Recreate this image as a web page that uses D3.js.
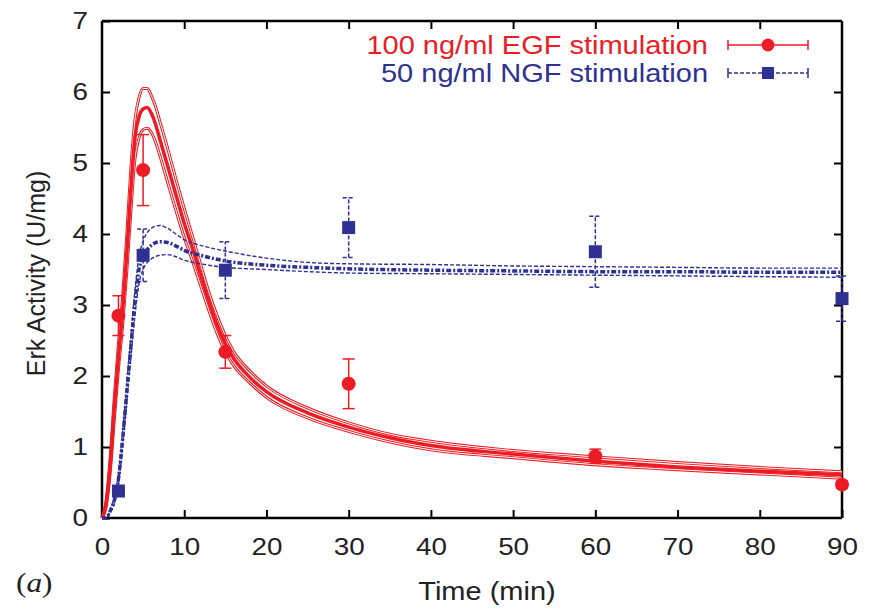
<!DOCTYPE html>
<html>
<head>
<meta charset="utf-8">
<script src="https://cdn.jsdelivr.net/npm/d3@7"></script>
<style>
  body { margin: 0; background: #fff; }
  text { font-family: "Liberation Sans", Arial, sans-serif; }
</style>
</head>
<body>
<div id="chart"></div>
<script>
// model curves
const egfTime  = [0, 0.5, 1, 1.5, 2, 2.5, 3, 3.5, 4, 4.5, 5, 5.5, 6, 6.5, 7, 8, 9, 10, 11, 12, 13, 14, 15, 16, 18, 20, 25, 30, 35, 40, 50, 60, 70, 80, 90];
const egfMid   = [0, 0.2, 0.75, 1.55, 2.27, 2.9, 3.7, 4.6, 5.35, 5.65, 5.76, 5.78, 5.7, 5.55, 5.35, 4.95, 4.55, 4.15, 3.8, 3.42, 3.05, 2.72, 2.45, 2.25, 1.98, 1.78, 1.48, 1.28, 1.13, 1.02, 0.9, 0.8, 0.72, 0.66, 0.61];
const egfUpper = [0, 0.24, 0.85, 1.7, 2.45, 3.1, 3.95, 4.9, 5.6, 5.92, 6.05, 6.05, 5.95, 5.8, 5.6, 5.2, 4.77, 4.36, 3.97, 3.57, 3.18, 2.85, 2.57, 2.35, 2.07, 1.86, 1.55, 1.34, 1.18, 1.08, 0.95, 0.86, 0.78, 0.71, 0.65];
const egfLower = [0, 0.16, 0.65, 1.4, 2.1, 2.7, 3.45, 4.3, 5.05, 5.35, 5.47, 5.49, 5.43, 5.3, 5.12, 4.72, 4.33, 3.95, 3.62, 3.27, 2.92, 2.6, 2.34, 2.15, 1.9, 1.7, 1.41, 1.22, 1.07, 0.96, 0.85, 0.75, 0.68, 0.62, 0.56];

const ngfTime  = [0, 0.5, 1, 1.5, 2, 2.5, 3, 3.5, 4, 4.5, 5, 5.5, 6, 7, 8, 9, 10, 12, 15, 20, 25, 30, 40, 50, 60, 70, 80, 90];
const ngfMid   = [0, 0, 0.1, 0.25, 0.55, 1.1, 1.75, 2.4, 3.03, 3.5, 3.68, 3.78, 3.84, 3.89, 3.88, 3.83, 3.77, 3.7, 3.62, 3.56, 3.53, 3.51, 3.49, 3.48, 3.47, 3.47, 3.46, 3.46];
const ngfUpper = [0, 0, 0.12, 0.3, 0.62, 1.2, 1.87, 2.55, 3.2, 3.68, 3.9, 4.02, 4.08, 4.12, 4.08, 4.0, 3.92, 3.84, 3.76, 3.66, 3.6, 3.58, 3.57, 3.55, 3.54, 3.53, 3.52, 3.52];
const ngfLower = [0, 0, 0.08, 0.2, 0.48, 1.0, 1.62, 2.25, 2.85, 3.3, 3.5, 3.6, 3.65, 3.7, 3.71, 3.68, 3.63, 3.58, 3.53, 3.5, 3.47, 3.45, 3.44, 3.43, 3.42, 3.41, 3.4, 3.39];

// measurements
const expTime = [2, 5, 15, 30, 60, 90];
const egfMean = [2.85, 4.9, 2.34, 1.89, 0.87, 0.47];
const egfSD   = [0.28, 0.5, 0.23, 0.35, 0.1, 0.05];
const ngfMean = [0.38, 3.7, 3.49, 4.09, 3.75, 3.09];
const ngfSD   = [0.05, 0.37, 0.4, 0.42, 0.5, 0.32];

const xTicks = [0, 10, 20, 30, 40, 50, 60, 70, 80, 90];
const yTicks = [0, 1, 2, 3, 4, 5, 6, 7];
const legendLabels = ["100 ng/ml EGF stimulation", "50 ng/ml NGF stimulation"];

const red = "#ec1c24";
const blue = "#2e3192";
const stretch = 1.16; // the source figure is a bit wider than tall

const W = 877, H = 614;
const svg = d3.select("#chart").append("svg").attr("width", W).attr("height", H);

const x = d3.scaleLinear().domain([0, 90]).range([102, 842]);
const y = d3.scaleLinear().domain([0, 7]).range([518, 21]);

// frame + inward ticks on all sides
const axBottom = svg.append("g").attr("transform", `translate(0,${y(0)})`)
  .call(d3.axisBottom(x).tickValues(xTicks).tickSize(-8).tickPadding(20).tickFormat(d3.format("d")));
const axTop = svg.append("g").attr("transform", `translate(0,${y(7)})`)
  .call(d3.axisTop(x).tickValues(xTicks.slice(1, -1)).tickSize(-8).tickFormat(""));
const axLeft = svg.append("g").attr("transform", `translate(${x(0)},0)`)
  .call(d3.axisLeft(y).tickValues(yTicks).tickSize(-8).tickPadding(12).tickFormat(d3.format("d")));
const axRight = svg.append("g").attr("transform", `translate(${x(90)},0)`)
  .call(d3.axisRight(y).tickValues(yTicks.slice(1, -1)).tickSize(-8).tickFormat(""));
[axBottom, axTop, axLeft, axRight].forEach(g => {
  g.select(".domain").attr("stroke", "#000").attr("stroke-width", 2.5);
  g.selectAll(".tick line").attr("stroke", "#000").attr("stroke-width", 2);
  g.selectAll(".tick text").attr("font-size", 24).attr("fill", "#222")
    .style("font-family", "Liberation Sans, Arial, sans-serif")
    .attr("transform", `scale(${stretch},1)`);
});
axLeft.select(".domain").attr("d", `M0,${y(0)}V${y(7)}`);
axRight.select(".domain").attr("d", `M0,${y(0)}V${y(7)}`);
axBottom.select(".domain").attr("d", `M${x(0)},0H${x(90)}`);
axTop.select(".domain").attr("d", `M${x(0)},0H${x(90)}`);

svg.append("text").attr("transform", `translate(487,600) scale(${stretch},1)`).attr("text-anchor", "middle")
  .attr("font-size", 25).attr("fill", "#222").text("Time (min)");
svg.append("text").attr("transform", `translate(45,${y(3.5) + 4}) rotate(-90)`)
  .attr("text-anchor", "middle").attr("font-size", 25).attr("fill", "#222").text("Erk Activity (U/mg)");
svg.append("text").attr("transform", `translate(16,592) scale(${stretch},1)`).attr("font-size", 27)
  .style("font-family", "Liberation Serif, Times New Roman, serif").attr("fill", "#222")
  .html('(<tspan font-style="italic">a</tspan>)');

const line = d3.line().x(d => x(d[0])).y(d => y(d[1])).curve(d3.curveMonotoneX);
const pts = (ts, vs) => ts.map((t, i) => [t, vs[i]]);

// EGF model with hollow-looking band lines
[egfUpper, egfLower].forEach(v => {
  svg.append("path").attr("d", line(pts(egfTime, v))).attr("fill", "none")
    .attr("stroke", red).attr("stroke-width", 3);
  svg.append("path").attr("d", line(pts(egfTime, v))).attr("fill", "none")
    .attr("stroke", "#fff").attr("stroke-width", 1);
});
svg.append("path").attr("d", line(pts(egfTime, egfMid))).attr("fill", "none")
  .attr("stroke", red).attr("stroke-width", 3.5);

// EGF data
const egf = svg.append("g");
expTime.forEach((t, i) => {
  const lo = y(egfMean[i] - egfSD[i]), hi = y(egfMean[i] + egfSD[i]);
  egf.append("line").attr("x1", x(t)).attr("x2", x(t)).attr("y1", lo).attr("y2", hi)
    .attr("stroke", red).attr("stroke-width", 1.5);
  [lo, hi].forEach(yy => egf.append("line").attr("x1", x(t) - 6).attr("x2", x(t) + 6)
    .attr("y1", yy).attr("y2", yy).attr("stroke", red).attr("stroke-width", 1.5));
  egf.append("circle").attr("cx", x(t)).attr("cy", y(egfMean[i])).attr("r", 7).attr("fill", red);
});

// NGF model
[ngfUpper, ngfLower].forEach(v => {
  svg.append("path").attr("d", line(pts(ngfTime, v))).attr("fill", "none")
    .attr("stroke", blue).attr("stroke-width", 1.4).attr("stroke-dasharray", "4,2");
});
svg.append("path").attr("d", line(pts(ngfTime, ngfMid))).attr("fill", "none")
  .attr("stroke", blue).attr("stroke-width", 3.5).attr("stroke-dasharray", "5,2,2,2");

// NGF data
const ngf = svg.append("g");
expTime.forEach((t, i) => {
  const lo = y(ngfMean[i] - ngfSD[i]), hi = y(ngfMean[i] + ngfSD[i]);
  ngf.append("line").attr("x1", x(t)).attr("x2", x(t)).attr("y1", lo).attr("y2", hi)
    .attr("stroke", blue).attr("stroke-width", 1.5).attr("stroke-dasharray", "4,2");
  [lo, hi].forEach(yy => ngf.append("line").attr("x1", x(t) - 6).attr("x2", x(t) + 6)
    .attr("y1", yy).attr("y2", yy).attr("stroke", blue).attr("stroke-width", 1.5).attr("stroke-dasharray", "4,2"));
  ngf.append("rect").attr("x", x(t) - 6.5).attr("y", y(ngfMean[i]) - 6.5)
    .attr("width", 13).attr("height", 13).attr("fill", blue);
});

// legend
const legY = [45, 73];
const legCol = [red, blue];
legendLabels.forEach((lab, i) => {
  const g = svg.append("g");
  g.append("text").attr("transform", `translate(708,${legY[i] + 9}) scale(${stretch},1)`)
    .attr("text-anchor", "end").attr("font-size", 25).attr("fill", legCol[i]).text(lab);
  const dash = i === 1 ? "4,2" : null;
  g.append("line").attr("x1", 728).attr("x2", 808).attr("y1", legY[i]).attr("y2", legY[i])
    .attr("stroke", legCol[i]).attr("stroke-width", 1.5).attr("stroke-dasharray", dash);
  [728, 808].forEach(xx => g.append("line").attr("x1", xx).attr("x2", xx)
    .attr("y1", legY[i] - 5).attr("y2", legY[i] + 5).attr("stroke", legCol[i]).attr("stroke-width", 1.5));
  if (i === 0) g.append("circle").attr("cx", 768).attr("cy", legY[i]).attr("r", 6.5).attr("fill", red);
  else g.append("rect").attr("x", 762).attr("y", legY[i] - 6).attr("width", 12).attr("height", 12).attr("fill", blue);
});
</script>
</body>
</html>
